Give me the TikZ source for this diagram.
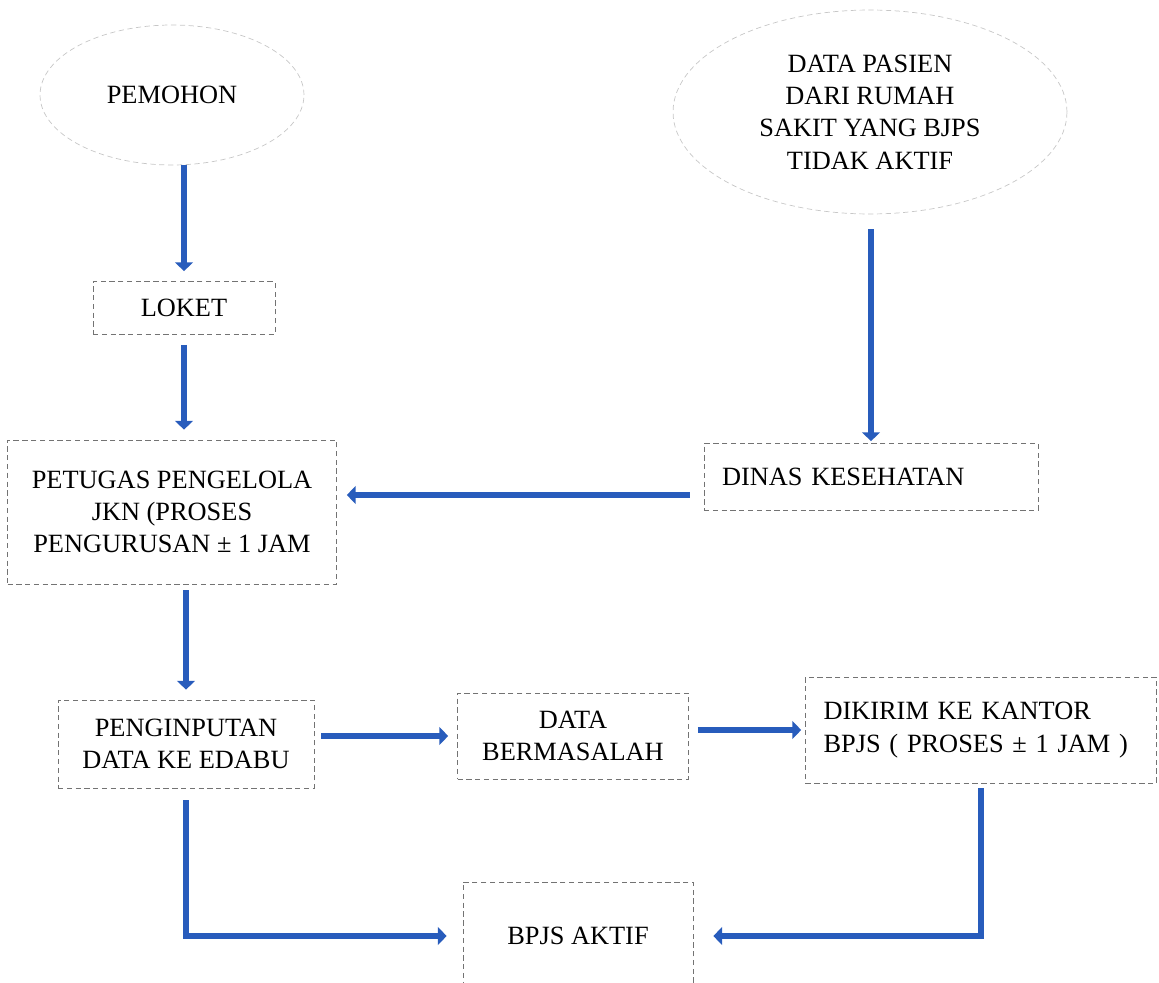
\documentclass[tikz,border=0pt]{standalone}
\usepackage{fontspec}
\setmainfont{Liberation Serif}
\usepackage{tikz}
\usetikzlibrary{arrows.meta,positioning,calc,shapes.geometric}
\definecolor{flowblue}{RGB}{40,92,188}
\tikzset{src/.style={shape=ellipse,draw=black!22,densely dashed,inner sep=0pt,align=center}}
\tikzset{proc/.style={draw=black!55,densely dashed,inner sep=0pt,align=center}}
\tikzset{flow/.style={draw=flowblue,line width=3pt,-{Triangle[length=5pt,width=10pt]}}}

\begin{document}
\begin{tikzpicture}[x=0.02cm, y=-0.02cm, font=\fontsize{15}{18.4}\selectfont]
    \useasboundingbox (0,0) rectangle (1159,983);
    \node[src,minimum width=5.28cm,minimum height=2.8cm] (pemohon) at (172,95) {PEMOHON};
    \node[src,minimum width=7.88cm,minimum height=4.08cm] (pasien) at (870,112) {DATA PASIEN\\DARI RUMAH\\SAKIT YANG BJPS\\TIDAK AKTIF};

    \node[proc,minimum width=3.64cm,minimum height=1.06cm] (loket) at (184,308) {LOKET};
    \node[proc,minimum width=6.58cm,minimum height=2.88cm] (petugas) at (172,512) {PETUGAS PENGELOLA\\JKN (PROSES\\PENGURUSAN ± 1 JAM};
    \node[proc,text width=5.96cm,inner xsep=0.36cm,align=left,minimum height=1.34cm] (dinas) at (871,477) {DINAS KESEHATAN};

    \node[proc,minimum width=5.12cm,minimum height=1.76cm] (input) at (186,744) {PENGINPUTAN\\DATA KE EDABU};
    \node[proc,minimum width=4.62cm,minimum height=1.72cm] (masalah) at (573,736) {DATA\\BERMASALAH};
    \node[proc,text width=6.3cm,inner xsep=0.36cm,align=left,minimum height=2.12cm] (kirim) at (981,730) {DIKIRIM KE KANTOR\\BPJS ( PROSES ± 1 JAM )};
    \node[proc,minimum width=4.6cm,minimum height=2.16cm] (aktif) at (578,936) {BPJS AKTIF};

    \path (pemohon.south -| loket) edge[flow,shorten >=0.2cm] (loket.north);
    \path ([yshift=-0.2cm]loket.south) edge[flow,shorten >=0.2cm] (loket.south |- petugas.north);
    \path ([yshift=-0.3cm]pasien.south -| dinas) edge[flow,shorten >=0.04cm] (dinas.north);
    \path ([yshift=-0.36cm,xshift=-0.28cm]dinas.west) edge[flow,shorten >=0.2cm] ([yshift=-0.36cm]dinas.west -| petugas.east);
    \path ([yshift=-0.12cm]petugas.south -| input) edge[flow,shorten >=0.2cm] (input.north);
    \path ([xshift=0.14cm]masalah.west -| input.east) edge[flow,shorten >=0.18cm] (masalah.west);
    \path ([xshift=0.18cm]kirim.west -| masalah.east) edge[flow,shorten >=0.08cm] (kirim.west);

    \draw[flow,shorten <=0.24cm,shorten >=0.32cm] (input.south) |- (aktif.west);
    \draw[flow,shorten <=0.1cm,shorten >=0.4cm] (kirim.south) |- (aktif.east);
\end{tikzpicture}
\end{document}
